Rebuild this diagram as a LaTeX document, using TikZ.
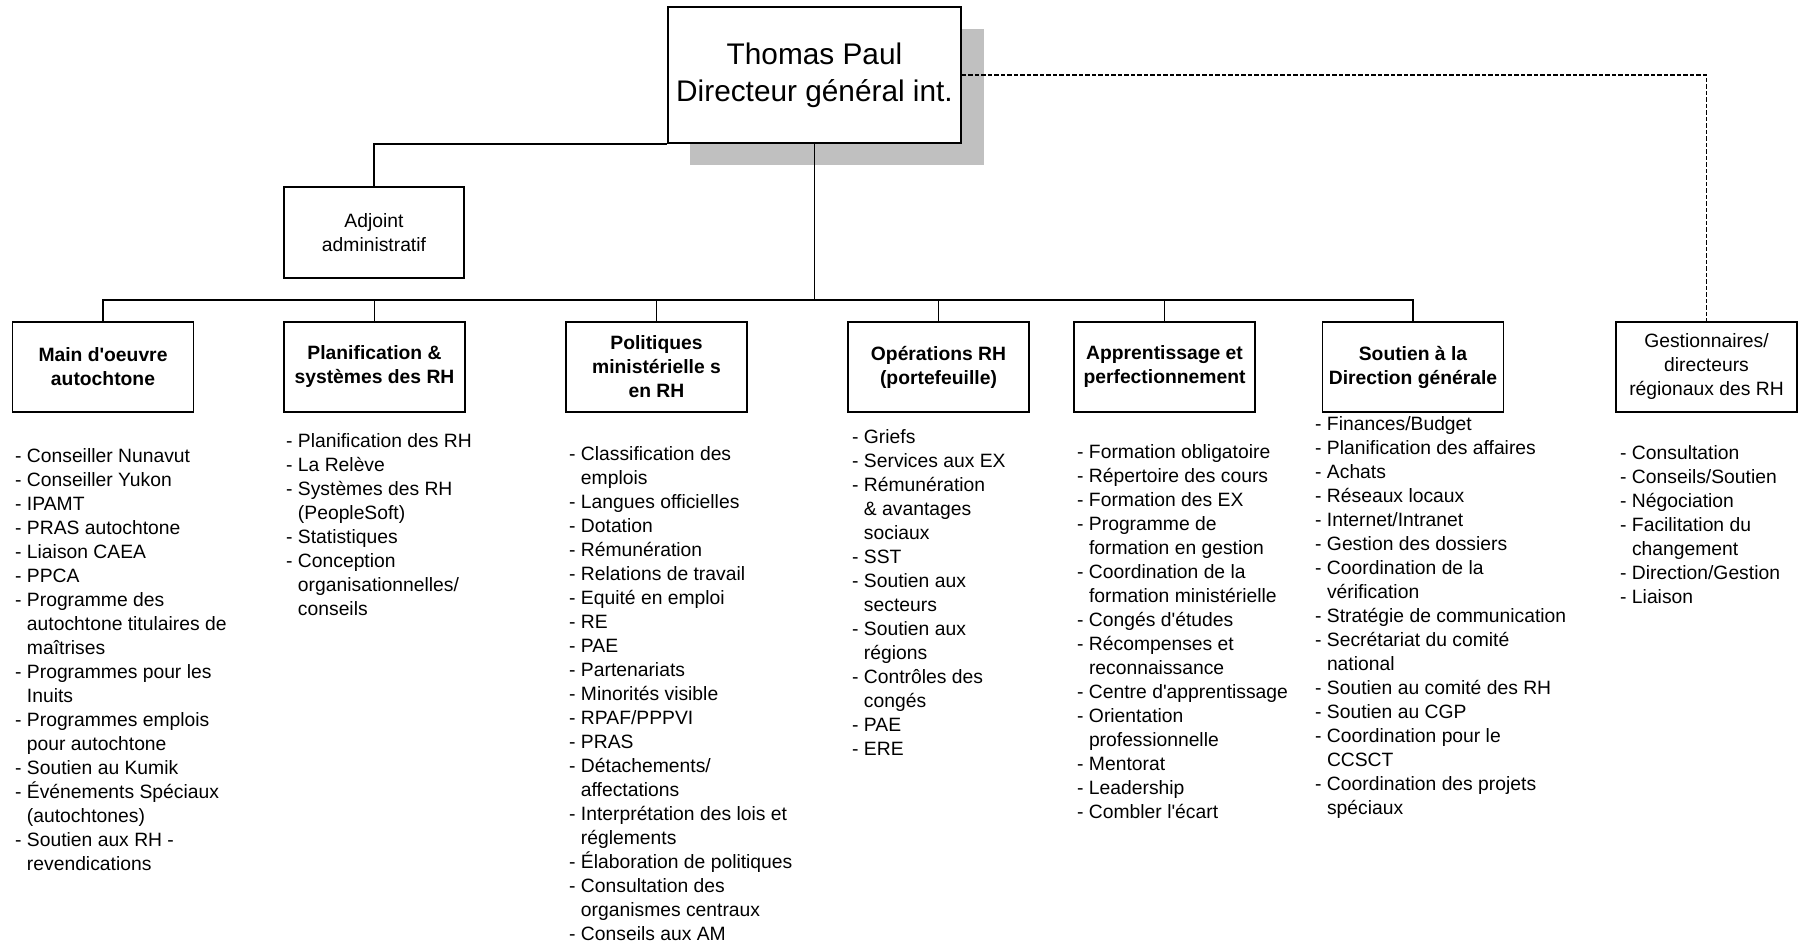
\documentclass[tikz,border=0pt]{standalone}
\usepackage{fontspec}
\setmainfont{Liberation Sans}
\newcommand\ind{\hphantom{-\ }}
\newcommand\q{\textquotesingle}
\begin{document}
\begin{tikzpicture}[x=1pt,y=-1pt,
  box/.style={draw, line width=1.8pt, fill=white, inner sep=0pt, align=center,
    minimum width=181pt, minimum height=90pt},
  ttl/.style={font=\bfseries\fontsize{19.3}{24}\selectfont},
  reg/.style={font=\fontsize{19.3}{24}\selectfont},
  lst/.style={anchor=north west, inner sep=0pt, align=left, font=\fontsize{19.3}{24}\selectfont},
  conn/.style={line width=1.3pt, draw=black},
  dconn/.style={line width=1.9pt, dash pattern=on 4.5pt off 2pt}
]
\useasboundingbox (0,0) rectangle (1802,945);

% shadow and top box
\fill[fill={rgb,255:red,192;green,192;blue,192}] (690,29) rectangle (984,165);
\node[box, minimum width=293pt, minimum height=136pt,
  font=\fontsize{29.8}{36.7}\selectfont] (top) at (814.5,75)
  {Thomas Paul\\Directeur général int.};

\node[box, reg, minimum width=180pt, minimum height=91pt] (adj) at (374,232.5)
  {Adjoint\\administratif};

\node[box, ttl] (main) at (103,367) {Main d\q oeuvre\\autochtone};
\node[box, ttl] (plan) at (374.5,367) {Planification \&\\systèmes des RH};
\node[box, ttl] (pol)  at (656.5,367) {Politiques\\ministérielle s\\en RH};
\node[box, ttl] (ops)  at (938.5,367) {Opérations RH\\(portefeuille)};
\node[box, ttl] (app)  at (1164.5,367) {Apprentissage et\\perfectionnement};
\node[box, ttl] (sout) at (1413,367) {Soutien à la\\Direction générale};
\node[box, reg] (gest) at (1706.5,367) {Gestionnaires/\\directeurs\\régionaux des RH};

\coordinate (bus) at (0,300);

% connectors
\draw[conn] (adj.north) |- (top.south west);
\foreach \d in {main,plan,pol,ops,app,sout}{
  \draw[conn] (top.south) -- (top.south |- bus) -| (\d.north);
}
\draw[dconn] (top.east) -| (gest.north);

% lists
\node[lst] (lmain) at (15,445.2) {\strut- Conseiller Nunavut\\
- Conseiller Yukon\\
- IPAMT\\
- PRAS autochtone\\
- Liaison CAEA\\
- PPCA\\
- Programme des\\
\ind autochtone titulaires de\\
\ind maîtrises\\
- Programmes pour les\\
\ind Inuits\\
- Programmes emplois\\
\ind pour autochtone\\
- Soutien au Kumik\\
- Événements Spéciaux\\
\ind (autochtones)\\
- Soutien aux RH -\\
\ind revendications};

\node[lst] (lplan) at (286,430.2) {\strut- Planification des RH\\
- La Relève\\
- Systèmes des RH\\
\ind (PeopleSoft)\\
- Statistiques\\
- Conception\\
\ind organisationnelles/\\
\ind conseils};

\node[lst] (lpol) at (569,443.2) {\strut- Classification des\\
\ind emplois\\
- Langues officielles\\
- Dotation\\
- Rémunération\\
- Relations de travail\\
- Equité en emploi\\
- RE\\
- PAE\\
- Partenariats\\
- Minorités visible\\
- RPAF/PPPVI\\
- PRAS\\
- Détachements/\\
\ind affectations\\
- Interprétation des lois et\\
\ind réglements\\
- Élaboration de politiques\\
- Consultation des\\
\ind organismes centraux\\
- Conseils aux AM};

\node[lst] (lops) at (852,426.2) {\strut- Griefs\\
- Services aux EX\\
- Rémunération\\
\ind \& avantages\\
\ind sociaux\\
- SST\\
- Soutien aux\\
\ind secteurs\\
- Soutien aux\\
\ind régions\\
- Contrôles des\\
\ind congés\\
- PAE\\
- ERE};

\node[lst] (lapp) at (1077,441.7) {\strut- Formation obligatoire\\
- Répertoire des cours\\
- Formation des EX\\
- Programme de\\
\ind formation en gestion\\
- Coordination de la\\
\ind formation ministérielle\\
- Congés d\q études\\
- Récompenses et\\
\ind reconnaissance\\
- Centre d\q apprentissage\\
- Orientation\\
\ind professionnelle\\
- Mentorat\\
- Leadership\\
- Combler l\q écart};

\node[lst] (lsout) at (1315,413.2) {\strut- Finances/Budget\\
- Planification des affaires\\
- Achats\\
- Réseaux locaux\\
- Internet/Intranet\\
- Gestion des dossiers\\
- Coordination de la\\
\ind vérification\\
- Stratégie de communication\\
- Secrétariat du comité\\
\ind national\\
- Soutien au comité des RH\\
- Soutien au CGP\\
- Coordination pour le\\
\ind CCSCT\\
- Coordination des projets\\
\ind spéciaux};

\node[lst] (lgest) at (1620,442.8) {\strut- Consultation\\
- Conseils/Soutien\\
- Négociation\\
- Facilitation du\\
\ind changement\\
- Direction/Gestion\\
- Liaison};
\end{tikzpicture}
\end{document}
